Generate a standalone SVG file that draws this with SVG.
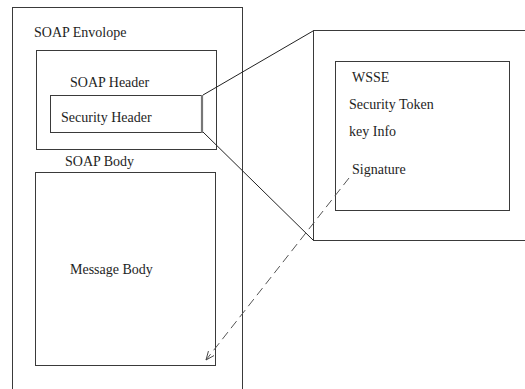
<svg xmlns="http://www.w3.org/2000/svg" width="525" height="389" viewBox="0 0 525 389">
  <style>
    .box { fill: none; stroke: #3a3a3a; stroke-width: 1; }
    .lbl { font-family: "Liberation Serif", "Times New Roman", serif; font-size: 14px; fill: #1e1e1e; }
    .link { stroke: #222; stroke-width: 1; fill: none; }
    .dash { stroke: #555; stroke-width: 1; fill: none; stroke-dasharray: 9 5; }
  </style>
  <defs>
    <marker id="open-arrow" viewBox="0 0 10 10" refX="9.5" refY="5" markerWidth="9" markerHeight="9" markerUnits="userSpaceOnUse" orient="auto">
      <path d="M0,1 L9.5,5 L0,9" fill="none" stroke="#444" stroke-width="1"/>
    </marker>
  </defs>
  <rect width="525" height="389" fill="#fff"/>

  <g id="soap-envelope">
    <rect class="box" x="12.5" y="7.5" width="230" height="400" stroke="#555"/>
    <text class="lbl" x="34" y="37">SOAP Envolope</text>
  </g>

  <g id="soap-header">
    <rect class="box" x="36.5" y="50.5" width="180" height="99"/>
    <text class="lbl" x="70" y="87">SOAP Header</text>
  </g>

  <g id="security-header">
    <rect class="box" x="50.5" y="95.5" width="152" height="37"/>
    <line x1="202" y1="95" x2="202" y2="133" stroke="#777" stroke-width="2.2"/>
    <text class="lbl" x="61" y="122">Security Header</text>
  </g>

  <g id="soap-body">
    <text class="lbl" x="65" y="166">SOAP Body</text>
  </g>

  <g id="message-body">
    <rect class="box" x="35.5" y="172.5" width="180" height="193"/>
    <text class="lbl" x="70" y="274">Message Body</text>
  </g>

  <g id="security-detail">
    <rect class="box" x="313.5" y="30.5" width="230" height="210"/>
  </g>

  <g id="wsse">
    <rect class="box" x="335.5" y="61.5" width="174" height="149"/>
    <text class="lbl" x="352" y="82">WSSE</text>
    <text class="lbl" x="349" y="109">Security Token</text>
    <text class="lbl" x="349" y="136">key Info</text>
    <text class="lbl" x="352" y="174">Signature</text>
  </g>

  <g id="connectors">
    <line class="link" x1="203" y1="95" x2="313" y2="31"/>
    <line class="link" x1="203" y1="132" x2="313" y2="240"/>
    <line class="dash" x1="349" y1="178" x2="206" y2="360" marker-end="url(#open-arrow)"/>
  </g>
</svg>
